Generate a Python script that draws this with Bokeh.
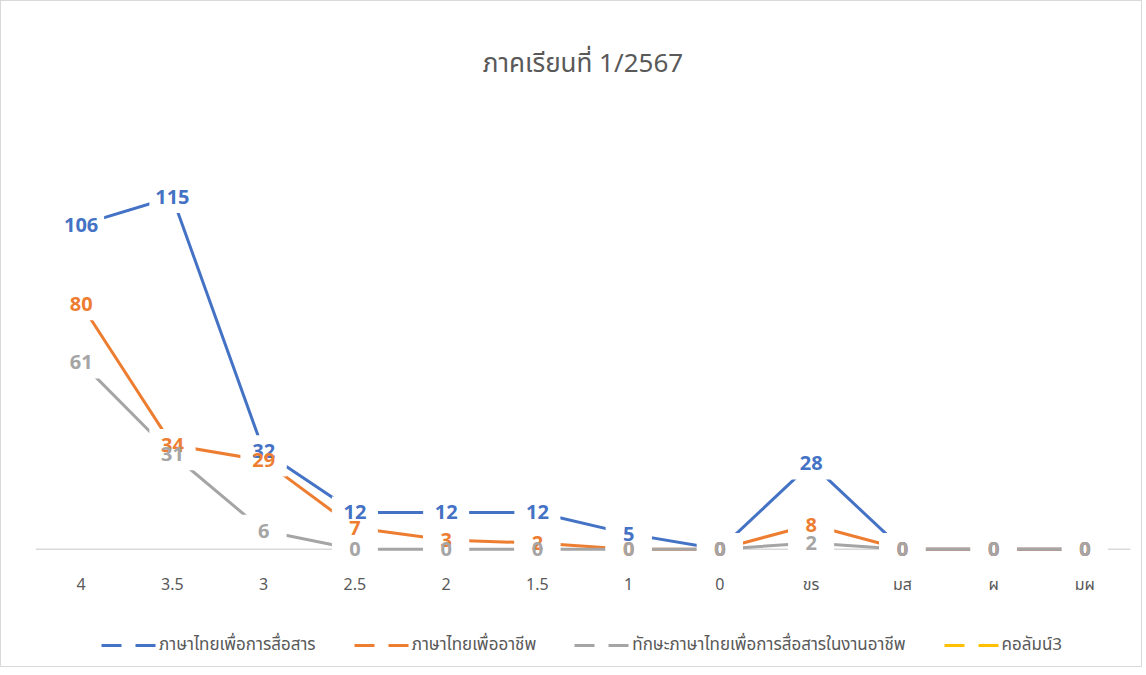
import numpy as np
from bokeh.plotting import figure
from bokeh.layouts import column
from bokeh.models import FactorRange, Legend, LegendItem, ColumnDataSource
from bokeh.core.properties import value
from bokeh.embed import file_html
from bokeh.resources import INLINE

categories = ["4", "3.5", "3", "2.5", "2", "1.5", "1", "0", "ขร", "มส", "ผ", "มผ"]
s1_name = "ภาษาไทยเพื่อการสื่อสาร"
s1 = [106, 115, 32, 12, 12, 12, 5, 0, 28, 0, 0, 0]
s2_name = "ภาษาไทยเพื่ออาชีพ"
s2 = [80, 34, 29, 7, 3, 2, 0, 0, 8, 0, 0, 0]
s3_name = "ทักษะภาษาไทยเพื่อการสื่อสารในงานอาชีพ"
s3 = [61, 31, 6, 0, 0, 0, 0, 0, 2, 0, 0, 0]
s4_name = "คอลัมน์3"
s4 = []  # empty column: shown only in the legend
title_text = "ภาคเรียนที่ 1/2567"

colors = ["#4472C4", "#ED7D31", "#A5A5A5", "#FFC000"]
TEXT = "#595959"
FONT = "Noto Sans, Noto Sans Thai, Loma, Garuda, sans-serif"
NUMFONT = "Open Sans"

W = 1140
p = figure(width=W, height=607, x_range=FactorRange(factors=categories, range_padding=0),
           y_range=(-5, 140), output_backend="svg", toolbar_location=None,
           y_axis_location=None, min_border_left=34, min_border_right=11,
           min_border_top=115, min_border_bottom=44)
p.outline_line_color = None
p.grid.visible = False
p.background_fill_color = "white"
p.border_fill_color = "white"

p.title.text = title_text
p.title.align = "center"
p.title.text_font = FONT
p.title.text_font_size = "26px"
p.title.text_font_style = "normal"
p.title.text_color = TEXT
p.title.standoff = 81

ax = p.xaxis[0]
ax.axis_line_color = None
ax.major_tick_line_color = None
ax.minor_tick_line_color = None
ax.major_label_text_font = FONT
ax.major_label_text_font_size = "16px"
ax.major_label_text_color = TEXT
ax.major_label_standoff = 2

# category-axis baseline at y = 0, spanning the whole category extent
p.line(x=[(categories[0], -0.5), (categories[-1], 0.5)], y=[0, 0],
       line_color="#D9D9D9", line_width=1.5)

series = [s1, s2, s3]
sources = [ColumnDataSource(dict(x=categories, y=vals, t=[str(v) for v in vals])) for vals in series]

for src, c in zip(sources, colors):
    p.line(x="x", y="y", source=src, line_color=c, line_width=3)

# white label boxes (Excel-style label fill) over the lines
for src in sources:
    p.rect(x="x", y="y", width=46, height=32, width_units="screen", height_units="screen",
           fill_color="white", line_color=None, source=src)

for src, c in zip(sources, colors):
    p.text(x="x", y="y", text="t", text_align="center", text_baseline="middle",
           text_font=value(NUMFONT), text_font_style="bold", text_font_size="20px",
           text_color=c, source=src)

# legend strip below the plot
lf = figure(width=W, height=58, x_range=(0, 1), y_range=(0, 1), output_backend="svg",
            toolbar_location=None, x_axis_location=None, y_axis_location=None,
            min_border=0)
lf.outline_line_color = None
lf.grid.visible = False
items = []
for name, vals, c in zip([s1_name, s2_name, s3_name, s4_name], [s1, s2, s3, s4], colors):
    # placeholder renderer (no visible data) that only supplies the legend swatch
    r = lf.line(x=np.array([np.nan]), y=np.array([np.nan]), line_color=c, line_width=3,
                line_dash="20 14")
    items.append(LegendItem(label=name, renderers=[r]))

legend = Legend(items=items, orientation="horizontal", location=(66, 8),
                glyph_width=56, glyph_height=20, label_standoff=2, spacing=38,
                padding=2, border_line_color=None, background_fill_alpha=0,
                label_text_font=FONT, label_text_font_size="17px", label_text_color=TEXT)
lf.add_layout(legend, "center")

layout = column(p, lf, spacing=0)
layout.styles = {"border": "1px solid #D9D9D9"}

open("out.html", "w").write(file_html(layout, INLINE))
